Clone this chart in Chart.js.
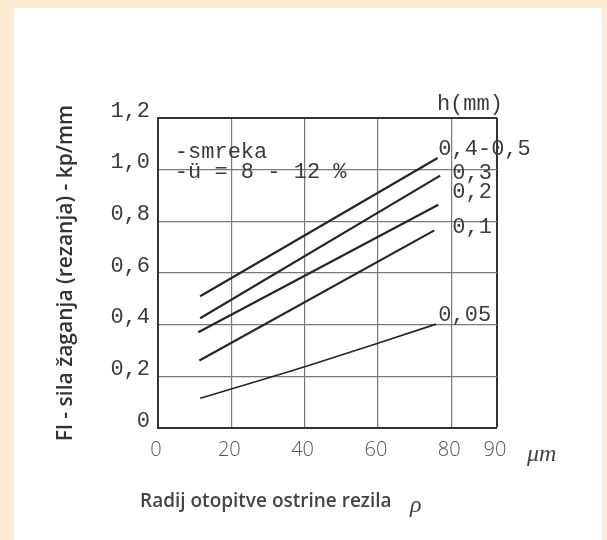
<!DOCTYPE html>
<html>
<head>
<meta charset="utf-8">
<script src="https://cdn.jsdelivr.net/npm/chart.js@4"></script>
<style>
  html, body { margin: 0; padding: 0; background: #fdebd3; }
  canvas { display: block; }
</style>
</head>
<body>
<canvas id="c" width="607" height="540"></canvas>
<script>
// ---- data ----
const seriesNames = ["0,4-0,5", "0,3", "0,2", "0,1", "0,05"];
const rho_h045 = [11.5, 76.3];
const F_h045   = [0.51, 1.045];
const rho_h03  = [11.5, 77.0];
const F_h03    = [0.425, 0.977];
const rho_h02  = [11.0, 76.5];
const F_h02    = [0.371, 0.864];
const rho_h01  = [11.3, 75.4];
const F_h01    = [0.261, 0.765];
const rho_h005 = [11.5, 40.7, 75.9];
const F_h005   = [0.115, 0.240, 0.402];

const xTickValues = [0, 20, 40, 60, 80, 92.5];
const xTickLabels = ["0", "20", "40", "60", "80", "90"];
const yTickValues = [0, 0.2, 0.4, 0.6, 0.8, 1.0, 1.2];
const yTickLabels = ["0", "0,2", "0,4", "0,6", "0,8", "1,0", "1,2"];

const yTitle = "Fl - sila žaganja (rezanja) - kp/mm";
const xTitle = "Radij otopitve ostrine rezila";
const xUnit = "μm";
const rhoSym = "ρ";
const legendHeader = "h(mm)";
const noteLines = ["-smreka", "-ü = 8 - 12 %"];

// ---- build datasets ----
const xs = [rho_h045, rho_h03, rho_h02, rho_h01, rho_h005];
const ys = [F_h045, F_h03, F_h02, F_h01, F_h005];
const datasets = seriesNames.map((name, i) => ({
  label: name,
  data: xs[i].map((x, j) => ({x: x, y: ys[i][j]})),
  borderColor: '#262626',
  borderWidth: i === 4 ? 1.7 : 2.2,
  pointRadius: 0,
  tension: i === 4 ? 0.3 : 0,
  fill: false
}));

const MONO = '"Liberation Mono", "DejaVu Sans Mono", monospace';
const INK = '#3c3c3c';

const bgPlugin = {
  id: 'bg',
  beforeDraw(chart) {
    const ctx = chart.ctx;
    ctx.save();
    ctx.fillStyle = '#fdebd3';
    ctx.fillRect(0, 0, chart.width, chart.height);
    ctx.fillStyle = '#ffffff';
    ctx.fillRect(14, 8, 588, 532);
    ctx.restore();
  }
};

const textPlugin = {
  id: 'texts',
  afterDraw(chart) {
    const ctx = chart.ctx;
    const xs_ = chart.scales.x, ys_ = chart.scales.y;
    const px = v => xs_.getPixelForValue(v);
    const py = v => ys_.getPixelForValue(v);
    ctx.save();
    ctx.fillStyle = INK;
    ctx.textBaseline = 'middle';
    ctx.textAlign = 'left';
    ctx.font = '22px ' + MONO;
    // series labels (data coordinates)
    const labelPos = [[76.5, 1.078], [80.3, 0.988], [80.3, 0.911], [80.3, 0.779], [76.5, 0.438]];
    seriesNames.forEach((n, i) => ctx.fillText(n, px(labelPos[i][0]), py(labelPos[i][1])));
    ctx.fillText(legendHeader, px(76.1), py(1.252));
    ctx.fillText(noteLines[0], px(4.6), py(1.066));
    ctx.fillText(noteLines[1], px(4.6), py(0.99));
    // x axis title
    ctx.fillStyle = '#444';
    ctx.font = '600 19px "Open Sans", "Noto Sans", sans-serif';
    ctx.fillText(xTitle, 140, 502);
    ctx.font = 'italic 24px "Liberation Serif", "DejaVu Serif", serif';
    ctx.fillText(rhoSym, 410, 506);
    ctx.fillText(xUnit, 527, 455);
    ctx.restore();
  }
};

new Chart(document.getElementById('c'), {
  type: 'line',
  data: { datasets },
  plugins: [bgPlugin, textPlugin],
  options: {
    responsive: false,
    devicePixelRatio: 1,
    animation: false,
    layout: { padding: { left: 0, top: 118, right: 110, bottom: 0 } },
    plugins: { legend: { display: false }, tooltip: { enabled: false } },
    scales: {
      x: {
        type: 'linear',
        min: 0, max: 92.5,
        afterBuildTicks: s => { s.ticks = xTickValues.map(v => ({value: v})); },
        afterFit: s => { s.height = 112; },
        ticks: {
          callback: (v, i) => xTickLabels[i],
          font: { family: '"Open Sans", "Lato", sans-serif', size: 20, weight: '300' },
          color: '#555',
          padding: 10,
          labelOffset: -2,
          maxRotation: 0,
          autoSkip: false
        },
        grid: {
          drawTicks: false,
          color: ctx => (ctx.tick && ctx.tick.value >= 92.5) ? '#333' : '#7a7a7a',
          lineWidth: ctx => (ctx.tick && ctx.tick.value >= 92.5) ? 2 : 1.2
        },
        border: { display: true, color: '#333', width: 2 }
      },
      y: {
        min: 0, max: 1.2,
        afterBuildTicks: s => { s.ticks = yTickValues.map(v => ({value: v})); },
        afterFit: s => { s.width = 158; },
        ticks: {
          callback: (v, i) => yTickLabels[i],
          font: { family: MONO, size: 22 },
          color: INK,
          padding: 8,
          labelOffset: -7,
          autoSkip: false
        },
        grid: {
          drawTicks: false,
          color: ctx => (ctx.tick && ctx.tick.value >= 1.2) ? '#333' : '#7a7a7a',
          lineWidth: ctx => (ctx.tick && ctx.tick.value >= 1.2) ? 2 : 1.2
        },
        border: { display: true, color: '#333', width: 2 },
        title: {
          display: true,
          text: yTitle,
          color: '#333',
          font: { family: '"Open Sans", "Noto Sans", sans-serif', size: 21, weight: '600' },
          padding: { top: 53, bottom: 0 }
        }
      }
    }
  }
});
</script>
</body>
</html>
